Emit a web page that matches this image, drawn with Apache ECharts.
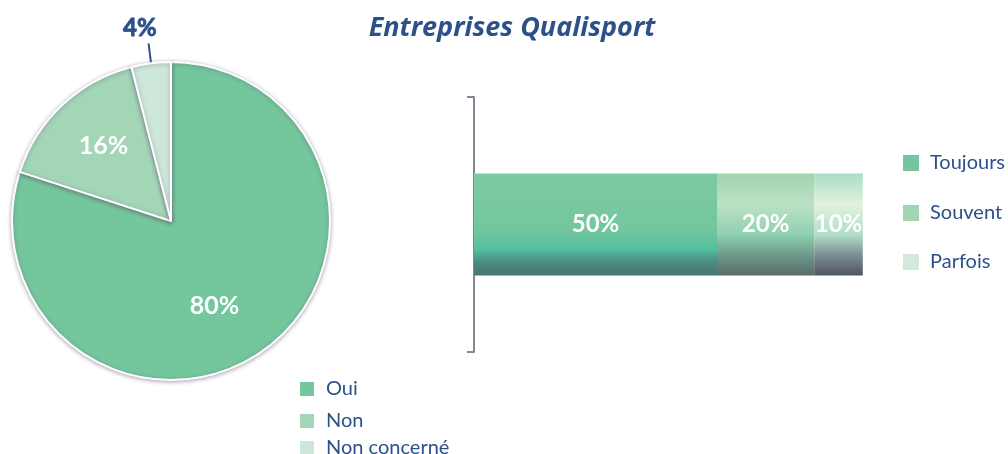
<!DOCTYPE html>
<html>
<head>
<meta charset="utf-8">
<script src="https://cdn.jsdelivr.net/npm/echarts@6/dist/echarts.min.js"></script>
<style>html,body{margin:0;padding:0;background:#fff;}#c{width:1008px;height:454px;}</style>
</head>
<body>
<div id="c"></div>
<script>
const titleText = 'Entreprises Qualisport';
const pieCategories = ['Oui', 'Non', 'Non concerné'];
const pieValues = [80, 16, 4];
const barCategory = ['Entreprises Qualisport'];
const barSeriesNames = ['Toujours', 'Souvent', 'Parfois'];
const barValues = [50, 20, 10];

const blue = '#2C5089';
const pieColors = ['#74C69D', '#A3D5B7', '#CDE8DA'];
const legendColors = ['#74C69D', '#A3D5B3', '#D0EADC'];
function grad(stops) {
  return new echarts.graphic.LinearGradient(0, 0, 0, 1, stops.map(s => ({offset: s[0], color: s[1]})));
}
const barGradients = [
  grad([[0, '#7BCAA2'], [0.55, '#74C69E'], [0.74, '#52C0A0'], [0.86, '#4C8E80'], [1, '#457570']]),
  grad([[0, '#A2D4B0'], [0.3, '#BCE1C5'], [0.6, '#8FD0B0'], [0.8, '#6C9A8A'], [1, '#5B6B6B']]),
  grad([[0, '#A9DCC8'], [0.3, '#E3F2DC'], [0.6, '#B0DEC9'], [0.8, '#7C8E94'], [1, '#4F5560']])
];
const font = 'Lato, "Open Sans", sans-serif';

const pieLegendTops = [374, 406, 433];
const barLegendTops = [148, 198, 247];
const legends = [];
pieCategories.forEach((n, i) => legends.push({
  left: 293, top: pieLegendTops[i], itemWidth: 16, itemHeight: 16,
  icon: 'rect', selectedMode: false,
  data: [{name: n, itemStyle: {color: pieColors[i]}}],
  textStyle: {color: blue, fontSize: 20, lineHeight: 16, fontFamily: font, padding: [0, 0, 0, 6]}
}));
barSeriesNames.forEach((n, i) => legends.push({
  left: 898, top: barLegendTops[i], itemWidth: 16, itemHeight: 16,
  icon: 'rect', selectedMode: false,
  data: [{name: n, itemStyle: {color: legendColors[i]}}],
  textStyle: {color: blue, fontSize: 20, lineHeight: 16, fontFamily: font, padding: [0, 0, 0, 6]}
}));

const option = {
  animation: false,
  backgroundColor: '#fff',
  title: {
    text: titleText, left: 507, top: 10, textAlign: 'center',
    textStyle: {color: blue, fontSize: 27, fontWeight: 'bold', fontStyle: 'italic', fontFamily: '"Open Sans", sans-serif'}
  },
  legend: legends,
  grid: {left: 474, right: 48, top: 97, bottom: 102},
  xAxis: {type: 'value', min: 0, max: 100, show: false},
  yAxis: {
    type: 'category', data: barCategory,
    axisLine: {show: true, lineStyle: {color: '#7F8A96', width: 2}},
    axisTick: {show: true, length: 7, lineStyle: {color: '#7F8A96', width: 2}},
    axisLabel: {show: false}
  },
  series: [
    {
      type: 'pie', center: [171, 221], radius: 159, startAngle: 90, clockwise: true,
      itemStyle: {borderColor: '#fff', borderWidth: 2, shadowBlur: 4, shadowColor: 'rgba(90,70,110,0.45)', shadowOffsetY: 1},
      label: {show: true, position: 'inside', color: '#fff', fontSize: 25, fontWeight: 'bold', fontFamily: font, formatter: '{c}%'},
      labelLayout: function (p) {
        if (p.dataIndex === 0) return {dx: -5, dy: 18};
        if (p.dataIndex === 1) return {dx: -11, dy: -15};
        return {dx: 8, dy: -15};
      },
      data: pieCategories.map((n, i) => {
        const d = {name: n, value: pieValues[i], itemStyle: {color: pieColors[i]}};
        if (i === 2) {
          d.label = {position: 'outside', color: blue, fontSize: 24, fontWeight: 'bold', fontFamily: font,
            textBorderColor: blue, textBorderWidth: 0.8, distanceToLabelLine: 0};
          d.labelLine = {show: true, length: 20, length2: 0, lineStyle: {color: blue, width: 2}};
        }
        return d;
      })
    },
    ...barSeriesNames.map((n, i) => ({
      type: 'bar', name: n, stack: 'total', barWidth: 102,
      itemStyle: {color: barGradients[i]},
      label: {show: true, position: 'inside', color: '#fff', fontSize: 24, fontWeight: 'bold', fontFamily: font, formatter: '{c}%'},
      data: [barValues[i]]
    }))
  ]
};
const chart = echarts.init(document.getElementById('c'), null, {renderer: 'canvas'});
chart.setOption(option);
</script>
</body>
</html>
